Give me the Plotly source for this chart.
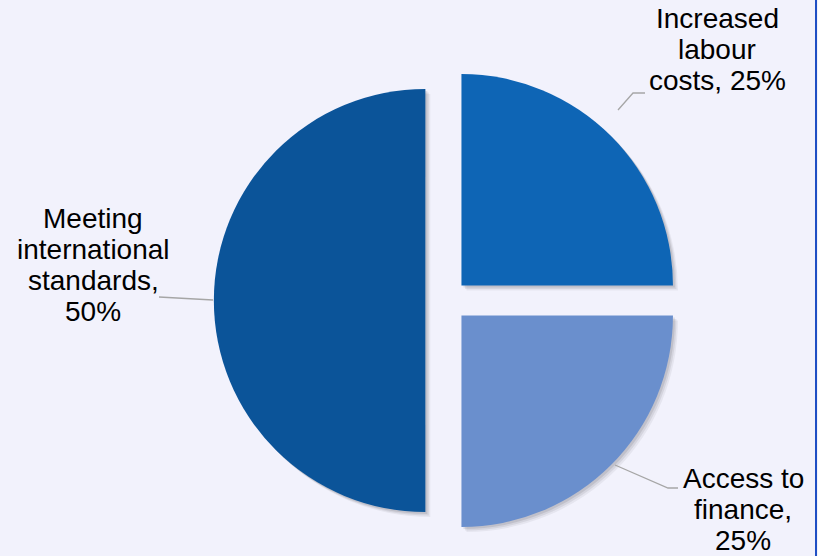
import plotly.graph_objects as go

# ---- data ----
categories = ["Increased labour costs", "Access to finance", "Meeting international standards"]
values = [25, 25, 50]
colors = ["#0E65B5", "#6A8FCD", "#0B5499"]
label_lines = [
    ["Increased", "labour", "costs, {p}%"],
    ["Access to", "finance,", "{p}%"],
    ["Meeting", "international", "standards,", "{p}%"],
]

W, H = 818, 556
BG = "#F2F2FC"

def px(x):
    return x / W

def py(y):
    return 1 - y / H

# pie geometry (pixels)
cx, cy, r, pull = 446.5, 300.5, 211.5, 0.1
half = r * (1 + pull)

def dom(dx=0, dy=0):
    return dict(x=[px(cx - half + dx), px(cx + half + dx)],
                y=[py(cy + half + dy), py(cy - half + dy)])

fig = go.Figure()

# soft shadow layers
for off, a in [(5, 0.05), (3.5, 0.07), (2, 0.09)]:
    fig.add_trace(go.Pie(
        labels=categories, values=values, sort=False, direction="clockwise",
        rotation=0, pull=[pull] * 3, textinfo="none", hoverinfo="skip",
        marker=dict(colors=["rgba(0,0,0,%s)" % a] * 3, line=dict(width=0)),
        domain=dom(off, off), showlegend=False))

fig.add_trace(go.Pie(
    labels=categories, values=values, sort=False, direction="clockwise",
    rotation=0, pull=[pull] * 3, textinfo="none",
    marker=dict(colors=colors, line=dict(width=0)),
    domain=dom(), showlegend=False))

total = sum(values)
pcts = [round(v * 100 / total) for v in values]

# label anchor (center x, first line y) in pixels, line spacing
label_pos = [(717, 18), (743, 478), (93, 218)]
spacing = 31.2
for lines, p, (lx, ly) in zip(label_lines, pcts, label_pos):
    for i, ln in enumerate(lines):
        fig.add_annotation(
            x=px(lx), y=py(ly + i * spacing), xref="paper", yref="paper",
            text=ln.format(p=p), showarrow=False, xanchor="center", yanchor="middle",
            font=dict(family="Liberation Sans, Arial", size=28, color="#000000"))

# leader lines
leaders = [
    [(618, 110), (633, 93), (645, 93)],
    [(615, 465), (668, 488), (678, 488)],
    [(213, 300), (159, 297)],
]
for pts in leaders:
    path = "M " + " L ".join("%f,%f" % (px(x), py(y)) for x, y in pts)
    fig.add_shape(type="path", path=path, xref="paper", yref="paper",
                  line=dict(color="#A6A6A6", width=1.3))

# right border
fig.add_shape(type="line", x0=px(816), x1=px(816), y0=0, y1=1,
              xref="paper", yref="paper", line=dict(color="#1F4FC4", width=2))

fig.update_layout(
    width=W, height=H, margin=dict(l=0, r=0, t=0, b=0),
    paper_bgcolor=BG, plot_bgcolor=BG, showlegend=False)

fig.write_html("out.html", config={"displayModeBar": False},
               post_script="document.body.style.margin='0';document.body.style.background='%s';" % BG)
